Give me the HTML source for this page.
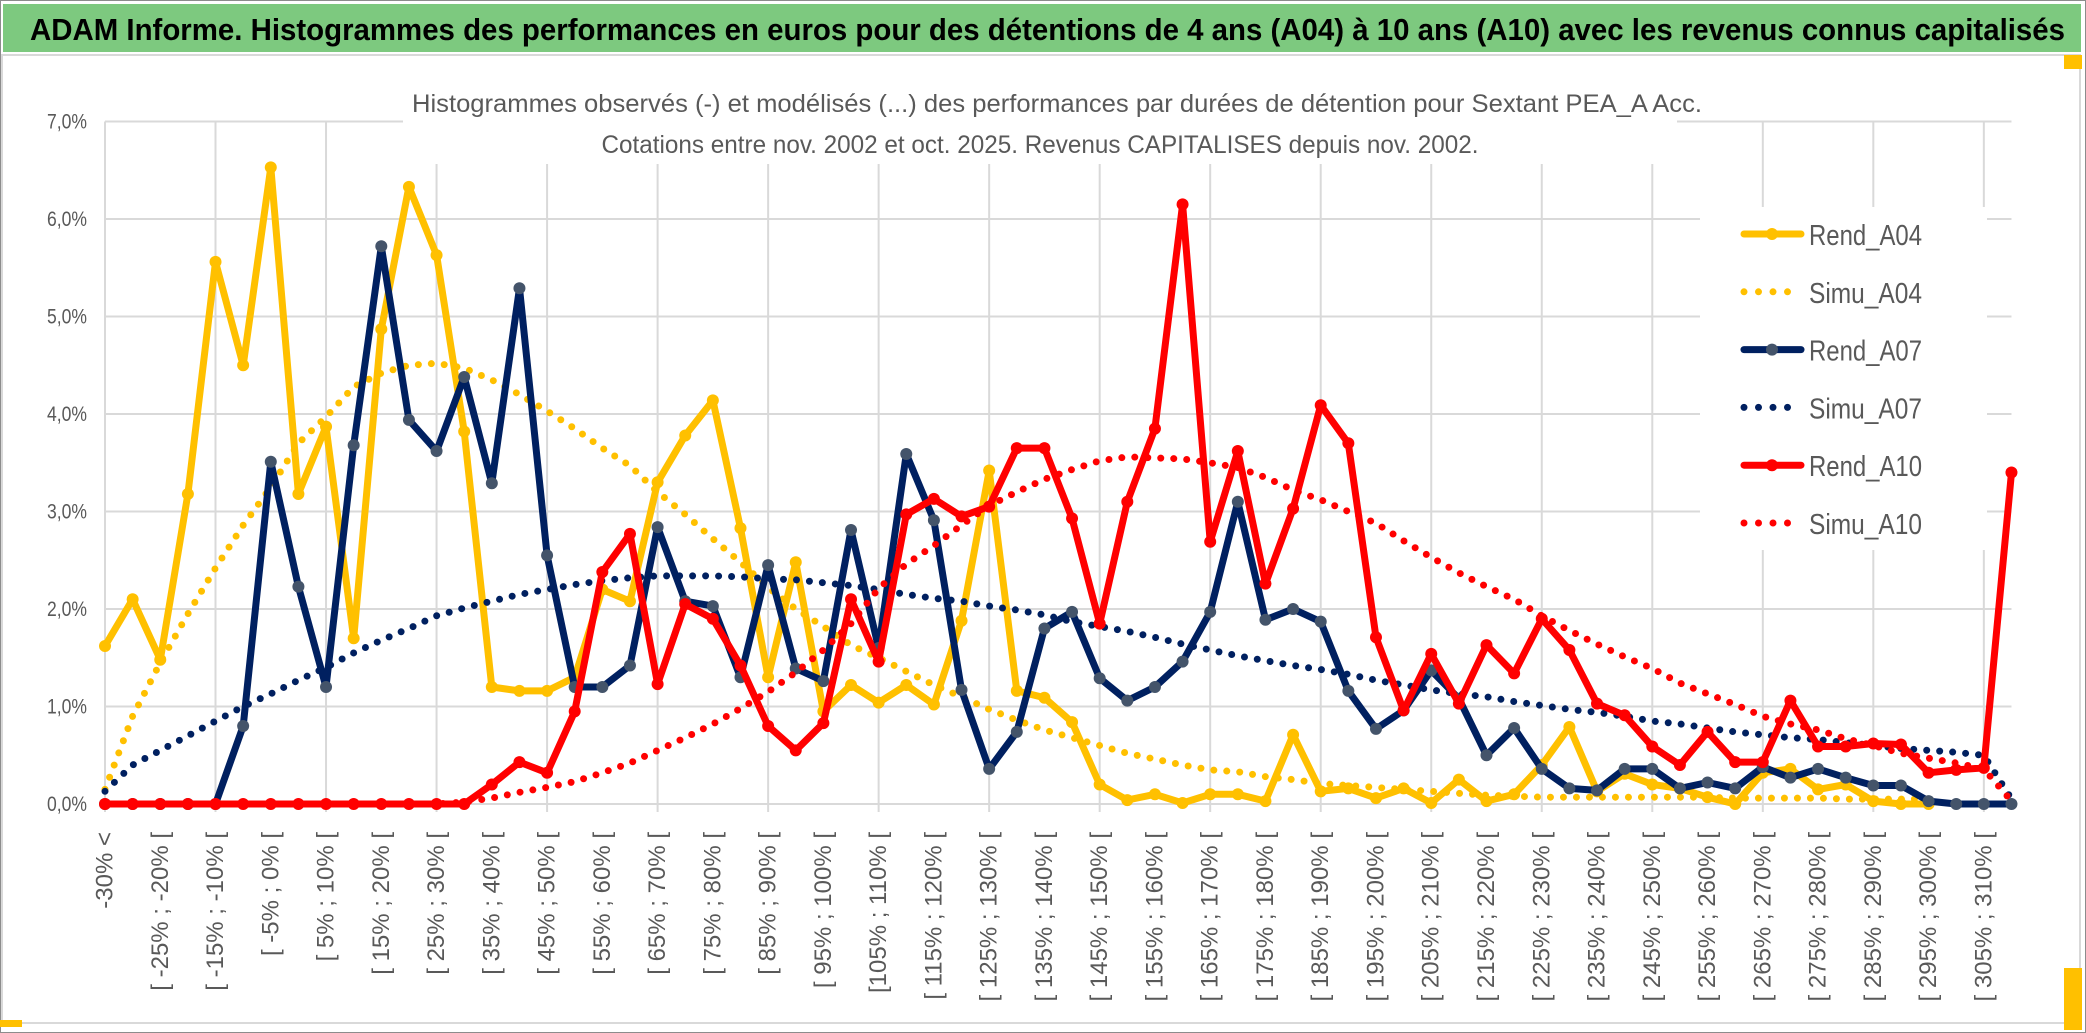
<!DOCTYPE html>
<html><head><meta charset="utf-8"><title>ADAM Informe</title>
<style>
html,body{margin:0;padding:0;background:#fff;}
svg{display:block;font-family:"Liberation Sans",sans-serif;}
</style></head>
<body>
<svg id="chart" width="2086" height="1033" viewBox="0 0 2086 1033" xmlns="http://www.w3.org/2000/svg">
  <rect x="0" y="0" width="2086" height="1033" fill="#fff"/>
  <rect x="0.5" y="0.5" width="2085" height="1032" fill="none" stroke="#8c8c8c" stroke-width="1"/>
  <rect x="3" y="4" width="2078" height="48" fill="#7DC97F"/>
  <text x="30" y="40" font-size="31" font-weight="bold" fill="#000" textLength="2035" lengthAdjust="spacingAndGlyphs">ADAM Informe. Histogrammes des performances en euros pour des détentions de 4 ans (A04) à 10 ans (A10) avec les revenus connus capitalisés</text>
  <rect x="2" y="55" width="2078" height="968" fill="none" stroke="#d9d9d9" stroke-width="2"/>
  <rect x="0" y="1020" width="22" height="7" fill="#FFC000"/>
  <rect x="2064" y="968" width="18" height="62" fill="#FFC000"/>
  <rect x="2064" y="55" width="18" height="14" fill="#FFC000"/>
  <g id="grid"></g>
  <g id="yaxis"></g>
  <g id="xaxis"></g>
  <rect x="403" y="60" width="1274" height="104" fill="#fff"/>
  <text x="1057" y="112" font-size="25" fill="#595959" text-anchor="middle" textLength="1290" lengthAdjust="spacingAndGlyphs">Histogrammes observés (-) et modélisés (...) des performances par durées de détention pour Sextant PEA_A Acc.</text>
  <text x="1040" y="153" font-size="25" fill="#595959" text-anchor="middle" textLength="877" lengthAdjust="spacingAndGlyphs">Cotations entre nov. 2002 et oct. 2025. Revenus CAPITALISES depuis nov. 2002.</text>
  <rect x="1700" y="207" width="287" height="343" fill="#fff"/>
  <g id="series"></g>
  <g id="legend"></g>
</svg>
<script>
// ---- data ----
const categories = ["-30% <","[ -30% ; -25% [","[ -25% ; -20% [","[ -20% ; -15% [","[ -15% ; -10% [","[ -10% ; -5% [","[ -5% ; 0% [","[ 0% ; 5% [","[ 5% ; 10% [","[ 10% ; 15% [","[ 15% ; 20% [","[ 20% ; 25% [","[ 25% ; 30% [","[ 30% ; 35% [","[ 35% ; 40% [","[ 40% ; 45% [","[ 45% ; 50% [","[ 50% ; 55% [","[ 55% ; 60% [","[ 60% ; 65% [","[ 65% ; 70% [","[ 70% ; 75% [","[ 75% ; 80% [","[ 80% ; 85% [","[ 85% ; 90% [","[ 90% ; 95% [","[ 95% ; 100% [","[ 100% ; 105% [","[105% ; 110% [","[ 110% ; 115% [","[ 115% ; 120% [","[ 120% ; 125% [","[ 125% ; 130% [","[ 130% ; 135% [","[ 135% ; 140% [","[ 140% ; 145% [","[ 145% ; 150% [","[ 150% ; 155% [","[ 155% ; 160% [","[ 160% ; 165% [","[ 165% ; 170% [","[ 170% ; 175% [","[ 175% ; 180% [","[ 180% ; 185% [","[ 185% ; 190% [","[ 190% ; 195% [","[ 195% ; 200% [","[ 200% ; 205% [","[ 205% ; 210% [","[ 210% ; 215% [","[ 215% ; 220% [","[ 220% ; 225% [","[ 225% ; 230% [","[ 230% ; 235% [","[ 235% ; 240% [","[ 240% ; 245% [","[ 245% ; 250% [","[ 250% ; 255% [","[ 255% ; 260% [","[ 260% ; 265% [","[ 265% ; 270% [","[ 270% ; 275% [","[ 275% ; 280% [","[ 280% ; 285% [","[ 285% ; 290% [","[ 290% ; 295% [","[ 295% ; 300% [","[ 300% ; 305% [","[ 305% ; 310% [","310% >="];
const yTicks = [0,1,2,3,4,5,6,7];
const yTickLabels = ["0,0%","1,0%","2,0%","3,0%","4,0%","5,0%","6,0%","7,0%"];
const rendA04 = [1.62,2.1,1.48,3.18,5.56,4.5,6.53,3.18,3.87,1.7,4.87,6.33,5.63,3.82,1.2,1.16,1.16,1.3,2.2,2.08,3.3,3.78,4.14,2.83,1.3,2.48,0.95,1.22,1.04,1.22,1.02,1.88,3.42,1.16,1.09,0.84,0.2,0.04,0.1,0.01,0.1,0.1,0.03,0.71,0.13,0.16,0.06,0.16,0.01,0.25,0.03,0.1,0.4,0.79,0.13,0.31,0.2,0.16,0.07,0.0,0.32,0.36,0.15,0.2,0.03,0.0,0.0];
const simuA04 = [0.15,0.9,1.45,1.95,2.42,2.86,3.25,3.7,3.97,4.28,4.42,4.5,4.52,4.47,4.35,4.2,4.03,3.85,3.65,3.47,3.2,2.97,2.72,2.48,2.22,2.0,1.82,1.63,1.5,1.36,1.22,1.1,0.97,0.86,0.76,0.68,0.6,0.52,0.46,0.4,0.35,0.33,0.28,0.25,0.21,0.19,0.17,0.15,0.13,0.11,0.09,0.08,0.07,0.07,0.07,0.07,0.07,0.07,0.07,0.06,0.06,0.06,0.06,0.05,0.05,0.05,0.05];
const rendA07 = [0,0,0,0,0,0.8,3.51,2.23,1.2,3.68,5.72,3.94,3.62,4.38,3.29,5.29,2.55,1.2,1.2,1.42,2.84,2.08,2.03,1.3,2.45,1.39,1.26,2.81,1.6,3.59,2.91,1.17,0.36,0.74,1.8,1.97,1.29,1.06,1.2,1.46,1.97,3.1,1.89,2.0,1.87,1.16,0.77,0.96,1.37,1.08,0.5,0.78,0.36,0.16,0.14,0.36,0.36,0.16,0.22,0.16,0.38,0.27,0.36,0.27,0.19,0.19,0.03,0,0,0];
const simuA07 = [0.13,0.4,0.55,0.7,0.85,1.0,1.13,1.27,1.4,1.55,1.68,1.8,1.93,2.01,2.08,2.15,2.2,2.25,2.29,2.32,2.34,2.34,2.34,2.33,2.31,2.3,2.27,2.24,2.2,2.15,2.11,2.08,2.03,1.99,1.94,1.87,1.82,1.77,1.71,1.64,1.58,1.52,1.47,1.42,1.38,1.33,1.27,1.22,1.17,1.13,1.1,1.05,1.01,0.97,0.94,0.9,0.85,0.82,0.78,0.74,0.71,0.68,0.66,0.63,0.6,0.57,0.55,0.53,0.5,0.05];
const rendA10 = [0,0,0,0,0,0,0,0,0,0,0,0,0,0,0.2,0.43,0.32,0.95,2.38,2.77,1.23,2.05,1.9,1.42,0.8,0.55,0.83,2.1,1.46,2.97,3.13,2.95,3.05,3.65,3.65,2.93,1.85,3.1,3.85,6.15,2.69,3.62,2.26,3.03,4.09,3.7,1.71,0.96,1.54,1.03,1.63,1.34,1.9,1.58,1.03,0.91,0.59,0.4,0.74,0.43,0.43,1.06,0.59,0.59,0.62,0.61,0.32,0.35,0.37,3.4];
const simuA10 = [0,0,0,0,0,0,0,0,0,0,0,0,0,0.02,0.06,0.12,0.17,0.23,0.32,0.42,0.55,0.68,0.82,0.98,1.15,1.35,1.58,1.85,2.21,2.46,2.65,2.86,3.06,3.2,3.33,3.43,3.52,3.56,3.55,3.54,3.5,3.45,3.35,3.22,3.12,3.0,2.88,2.7,2.53,2.37,2.23,2.1,1.93,1.78,1.64,1.51,1.39,1.24,1.13,1.02,0.9,0.82,0.76,0.67,0.6,0.52,0.47,0.42,0.36,0.03];
const seriesNames = ["Rend_A04","Simu_A04","Rend_A07","Simu_A07","Rend_A10","Simu_A10"];

// ---- axes ----
const X0 = 105, XSTEP = 27.63, Y0 = 804, YUNIT = 97.5;
function xScale(i){ return X0 + i * XSTEP; }
function yScale(v){ return Y0 - v * YUNIT; }
const NS = "http://www.w3.org/2000/svg";
function mk(tag, attrs, parent){ const e = document.createElementNS(NS, tag); for (const k in attrs) e.setAttribute(k, attrs[k]); parent.appendChild(e); return e; }

const grid = document.getElementById('grid');
const xEnd = xScale(categories.length - 1);
yTicks.forEach(function(t){
  const l = mk('line', {x1: X0, x2: xEnd, y1: yScale(t), y2: yScale(t), stroke: '#d9d9d9', 'stroke-width': 2}, grid);
  
  
});
for (let i = 0; i < categories.length; i += 4) {
  const l = mk('line', {x1: xScale(i), x2: xScale(i), y1: yScale(7), y2: Y0 + 8, stroke: '#d9d9d9', 'stroke-width': 2}, grid);
  
  
}
const yaxis = document.getElementById('yaxis');
yTicks.forEach(function(t, k){
  const tx = mk('text', {x: 87, y: yScale(t) + 7, 'font-size': 21, fill: '#595959', 'text-anchor': 'end', textLength: 40, lengthAdjust: 'spacingAndGlyphs'}, yaxis);
  tx.textContent = yTickLabels[k];
  
  
});
const xaxis = document.getElementById('xaxis');
for (let i = 0; i < categories.length; i += 2) {
  const x = xScale(i);
  const tx = mk('text', {x: 0, y: 0, 'font-size': 24, fill: '#595959', 'text-anchor': 'end', 'dominant-baseline': 'central', transform: 'translate(' + x + ',832) rotate(-90)'}, xaxis);
  tx.textContent = categories[i];
  
  
}

// ---- series ----
const seriesLayer = document.getElementById('series');
function pathFor(arr){ return arr.map(function(v, i){ return (i ? 'L' : 'M') + xScale(i).toFixed(1) + ',' + yScale(v).toFixed(1); }).join(' '); }
function drawSolid(arr, color, marker, name){
  const g = mk('g', {}, seriesLayer);
  
  
  const p = mk('path', {d: pathFor(arr), fill: 'none', stroke: color, 'stroke-width': 7, 'stroke-linejoin': 'round', 'stroke-linecap': 'round'}, g);
  
  
  arr.forEach(function(v, i){
    const c = mk('circle', {cx: xScale(i), cy: yScale(v), r: 6, fill: marker}, g);
    
    
  });
}
function drawDotted(arr, color, name){
  const p = mk('path', {d: pathFor(arr), fill: 'none', stroke: color, 'stroke-width': 7, 'stroke-linecap': 'round', 'stroke-dasharray': '0 13'}, seriesLayer);
  
  
}
drawSolid(rendA04, '#FFC000', '#FFC000', 'rend-a04');
drawDotted(simuA04, '#FFC000', 'simu-a04');
drawSolid(rendA07, '#002060', '#44546A', 'rend-a07');
drawDotted(simuA07, '#002060', 'simu-a07');
drawSolid(rendA10, '#FF0000', '#FF0000', 'rend-a10');
drawDotted(simuA10, '#FF0000', 'simu-a10');

// ---- legend ----
const legend = document.getElementById('legend');
const legendColors = ['#FFC000','#FFC000','#002060','#002060','#FF0000','#FF0000'];
const legendMarkers = ['#FFC000',null,'#44546A',null,'#FF0000',null];
seriesNames.forEach(function(n, k){
  const y = 234 + k * 57.8;
  const g = mk('g', {}, legend);
  
  
  if (legendMarkers[k]) {
    mk('line', {x1: 1744, x2: 1801, y1: y, y2: y, stroke: legendColors[k], 'stroke-width': 7, 'stroke-linecap': 'round'}, g);
    mk('circle', {cx: 1772, cy: y, r: 6, fill: legendMarkers[k]}, g);
  } else {
    mk('line', {x1: 1744, x2: 1800, y1: y, y2: y, stroke: legendColors[k], 'stroke-width': 7, 'stroke-linecap': 'round', 'stroke-dasharray': '0 14.5'}, g);
  }
  const t = mk('text', {x: 1809, y: y + 11, 'font-size': 29, fill: '#595959', textLength: 113, lengthAdjust: 'spacingAndGlyphs'}, g);
  t.textContent = n;
});
</script>
</body></html>
